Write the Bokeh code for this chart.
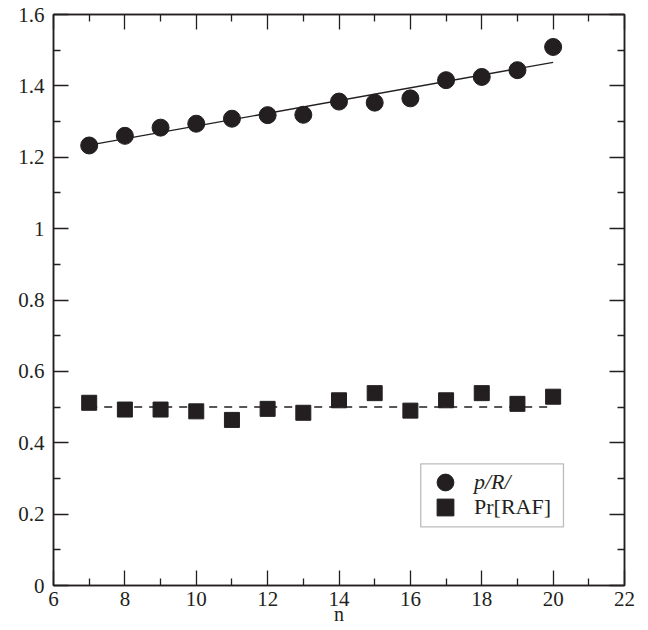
from bokeh.plotting import figure
from bokeh.models import Range1d, LinearAxis, FixedTicker, Legend, LegendItem, BoxAnnotation, CustomJSTickFormatter
from bokeh.embed import file_html
from bokeh.resources import INLINE

# ---- data ----
n = [7, 8, 9, 10, 11, 12, 13, 14, 15, 16, 17, 18, 19, 20]
p_R = [1.233, 1.260, 1.283, 1.294, 1.308, 1.318, 1.319, 1.356, 1.353, 1.365, 1.416, 1.425, 1.444, 1.509]
pr_raf = [0.512, 0.493, 0.493, 0.488, 0.464, 0.495, 0.484, 0.519, 0.539, 0.490, 0.519, 0.539, 0.509, 0.529]
fit_n = [7, 20]
fit_p_R = [1.234, 1.466]
fit_raf = [0.500, 0.500]

x_ticks = [6, 8, 10, 12, 14, 16, 18, 20, 22]
x_tick_labels = ["6", "8", "10", "12", "14", "16", "18", "20", "22"]
x_minor = [7, 9, 11, 13, 15, 17, 19, 21]
y_ticks = [0, 0.2, 0.4, 0.6, 0.8, 1, 1.2, 1.4, 1.6]
y_tick_labels = ["0", "0.2", "0.4", "0.6", "0.8", "1", "1.2", "1.4", "1.6"]
y_minor = [0.1, 0.3, 0.5, 0.7, 0.9, 1.1, 1.3, 1.5]

x_title = "n"
label_circ = "p/R/"
label_sq = "Pr[RAF]"

INK = "#231f20"
FONT = "Liberation Serif"

p = figure(frame_width=571, frame_height=571, x_range=Range1d(6, 22), y_range=Range1d(0, 1.6),
           output_backend="svg", toolbar_location=None,
           x_axis_type=None, y_axis_type=None,
           min_border_left=53, min_border_right=24, min_border_top=14, min_border_bottom=45)
p.grid.visible = False
p.outline_line_color = INK
p.outline_line_width = 1.5
p.background_fill_color = "white"
p.border_fill_color = "white"


def style_axis(ax, labels):
    ax.axis_line_color = INK
    ax.axis_line_width = 1.5
    ax.major_tick_line_color = INK
    ax.minor_tick_line_color = INK
    ax.major_tick_line_width = 1.3
    ax.minor_tick_line_width = 1.3
    ax.major_tick_in = 15
    ax.major_tick_out = 0
    ax.minor_tick_in = 7
    ax.minor_tick_out = 0
    ax.major_label_text_font = FONT
    ax.major_label_text_font_size = "21px"
    ax.major_label_text_color = INK
    if not labels:
        ax.formatter = CustomJSTickFormatter(code="return ''")
        ax.major_label_text_font_size = "0px"
        ax.major_label_standoff = 0


xb = LinearAxis(ticker=FixedTicker(ticks=x_ticks, minor_ticks=x_minor),
                major_label_overrides=dict(zip(x_ticks, x_tick_labels)),
                axis_label=x_title)
style_axis(xb, True)
xb.major_label_standoff = 6
xb.axis_label_standoff = -6
xb.axis_label_text_font = FONT
xb.axis_label_text_font_style = "normal"
xb.axis_label_text_font_size = "20px"
xb.axis_label_text_color = INK
p.add_layout(xb, "below")

yl = LinearAxis(ticker=FixedTicker(ticks=y_ticks, minor_ticks=y_minor),
                major_label_overrides=dict(zip(y_ticks, y_tick_labels)))
style_axis(yl, True)
yl.major_label_standoff = 9
p.add_layout(yl, "left")

xt = LinearAxis(ticker=FixedTicker(ticks=x_ticks, minor_ticks=x_minor))
style_axis(xt, False)
p.add_layout(xt, "above")

yr = LinearAxis(ticker=FixedTicker(ticks=y_ticks, minor_ticks=y_minor))
style_axis(yr, False)
p.add_layout(yr, "right")

# fits
p.line(fit_n, fit_p_R, line_color=INK, line_width=1.4)
p.line(fit_n, fit_raf, line_color=INK, line_width=1.4, line_dash="8 7")

# points
rc = p.scatter(n, p_R, marker="circle", size=17, fill_color=INK, line_color=INK)
rs = p.scatter(n, pr_raf, marker="square", size=15, fill_color=INK, line_color=INK)

# legend frame
box = BoxAnnotation(left=16.29, right=20.29, bottom=0.164, top=0.341,
                    fill_color="white", fill_alpha=1.0, line_color=INK, line_width=1.3,
                    level="annotation")
p.add_layout(box)

common = dict(padding=0, spacing=0, margin=0,
              glyph_width=42, glyph_height=42, label_height=42, label_standoff=8,
              label_text_font=FONT, label_text_font_size="22px",
              label_text_color=INK, border_line_alpha=0, background_fill_alpha=0)
leg_a = Legend(items=[LegendItem(label=label_circ, renderers=[rc])],
               location=(371, 82), label_text_font_style="italic", **common)
leg_b = Legend(items=[LegendItem(label=label_sq, renderers=[rs])],
               location=(371, 57), label_text_font_style="normal", **common)
p.add_layout(leg_a, "center")
p.add_layout(leg_b, "center")

open("out.html", "w").write(file_html(p, INLINE))
